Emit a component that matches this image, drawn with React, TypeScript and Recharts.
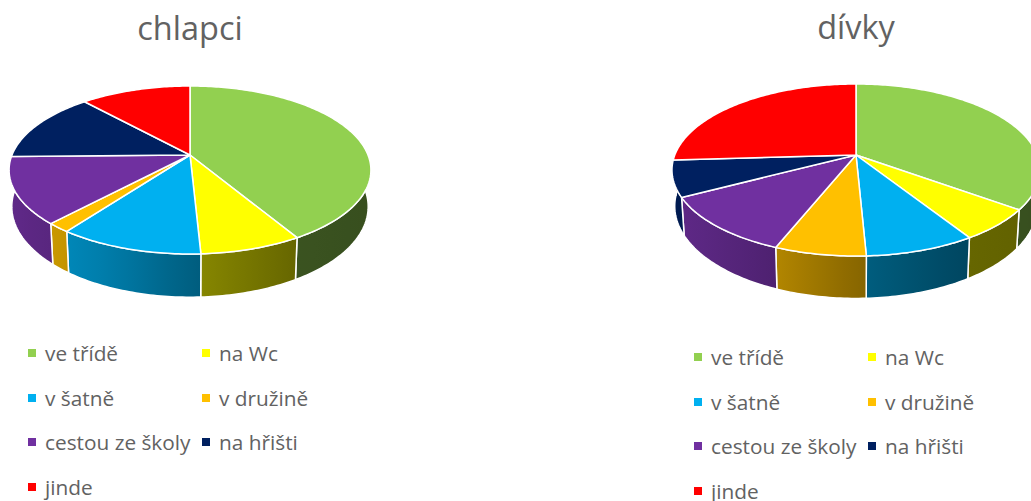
import { Legend, Pie, PieChart } from "recharts";

const CATEGORIES = [
  "ve třídě",
  "na Wc",
  "v šatně",
  "v družině",
  "cestou ze školy",
  "na hřišti",
  "jinde",
];
const CHLAPCI_VALUES = [41.5, 7.7, 10.9, 1.8, 12.8, 13.6, 11.7];
const DIVKY_VALUES = [35, 6, 8.2, 6.8, 11.2, 6.8, 25.9];
const SLICE_COLORS = [
  "#92d050",
  "#ffff00",
  "#00b0f0",
  "#ffc000",
  "#7030a0",
  "#002060",
  "#ff0000",
];

const FONT = '"Open Sans", sans-serif';
const TEXT_COLOR = "#626262";

type View = { a: number; b: number; k: number; depth: number };

// perspective of the tilted disc: angle is clockwise from the top
function project(cx: number, cy: number, view: View, deg: number, bottom = false) {
  const rad = (deg * Math.PI) / 180;
  const u = Math.sin(rad);
  const v = -Math.cos(rad);
  const w = 1 - view.k * v;
  const x = (view.a * u) / w;
  const y = (view.b * v) / w;
  if (bottom) return { x: cx + x * 0.985, y: cy + y + view.depth / w };
  return { x: cx + x, y: cy + y };
}

function arcPoints(cx: number, cy: number, view: View, from: number, to: number, bottom = false) {
  const n = Math.max(2, Math.ceil(Math.abs(to - from)));
  const pts: string[] = [];
  for (let i = 0; i <= n; i++) {
    const p = project(cx, cy, view, from + ((to - from) * i) / n, bottom);
    pts.push(`${p.x.toFixed(2)} ${p.y.toFixed(2)}`);
  }
  return pts;
}

// side wall gets darker from left to right
function brightness(t: number) {
  const stops = [
    [-1, 0.85],
    [-0.7, 0.77],
    [-0.45, 0.7],
    [0, 0.54],
    [0.6, 0.4],
    [1, 0.38],
  ];
  for (let i = 1; i < stops.length; i++) {
    if (t <= stops[i][0]) {
      const f = (t - stops[i - 1][0]) / (stops[i][0] - stops[i - 1][0]);
      return stops[i - 1][1] + (stops[i][1] - stops[i - 1][1]) * f;
    }
  }
  return 0.38;
}

function shade(hex: string, f: number) {
  const c = [1, 3, 5].map((i) => Math.round(parseInt(hex.slice(i, i + 2), 16) * f));
  return `rgb(${c[0]},${c[1]},${c[2]})`;
}

function makeTop(view: View) {
  return function TopSlice(props: any) {
    const { cx, cy, startAngle, endAngle, fill } = props;
    const pts = arcPoints(cx, cy, view, 90 - startAngle, 90 - endAngle);
    return (
      <path
        d={`M${cx} ${cy}L${pts.join("L")}Z`}
        fill={fill}
        stroke="#fff"
        strokeWidth={1.5}
        strokeLinejoin="round"
      />
    );
  };
}

function makeSide(view: View, name: string) {
  return function SideSlice(props: any) {
    const { cx, cy, startAngle, endAngle, fill } = props;
    const from = Math.max(90 - startAngle, 84);
    const to = Math.min(90 - endAngle, 276);
    if (to <= from) return <g />;
    const top = arcPoints(cx, cy, view, from, to);
    const bottom = arcPoints(cx, cy, view, from, to, true).reverse();
    const x1 = project(cx, cy, view, from).x;
    const x2 = project(cx, cy, view, to).x;
    const id = `${name}-side-${Math.round(from)}`;
    const offsets = [0, 0.25, 0.5, 0.75, 1];
    return (
      <g>
        <defs>
          <linearGradient id={id} gradientUnits="userSpaceOnUse" x1={x1} x2={x2} y1={0} y2={0}>
            {offsets.map((o) => (
              <stop
                key={o}
                offset={o}
                stopColor={shade(fill, brightness((x1 + (x2 - x1) * o - cx) / view.a))}
              />
            ))}
          </linearGradient>
        </defs>
        <path
          d={`M${top.join("L")}L${bottom.join("L")}Z`}
          fill={`url(#${id})`}
          stroke="#fff"
          strokeWidth={1.5}
          strokeLinejoin="round"
        />
      </g>
    );
  };
}

function LegendGrid({ payload }: any) {
  const items = (payload || []).filter((p: any) => p.type !== "none");
  return (
    <div
      style={{
        display: "grid",
        gridTemplateColumns: "174px 174px",
        gridAutoRows: "44.6px",
        alignItems: "center",
        fontFamily: FONT,
        fontSize: 20.8,
        lineHeight: 0.9,
        color: TEXT_COLOR,
        whiteSpace: "nowrap",
      }}
    >
      {items.map((p: any) => (
        <div key={p.value} style={{ display: "flex", alignItems: "center" }}>
          <span style={{ width: 8, height: 8, marginRight: 9, background: p.color }} />
          {p.value}
        </div>
      ))}
    </div>
  );
}

type DiscProps = {
  name: string;
  title: string;
  values: number[];
  left: number;
  width: number;
  cx: number;
  cy: number;
  view: View;
  titleY: number;
  legendX: number;
  legendY: number;
};

function Disc({ name, title, values, left, width, cx, cy, view, titleY, legendX, legendY }: DiscProps) {
  const table = CATEGORIES.map((c, i) => ({
    name: c,
    value: values[i],
    fill: SLICE_COLORS[i],
  }));
  return (
    <div style={{ position: "absolute", left, top: 0 }}>
      <PieChart width={width} height={501} margin={{ top: 0, right: 0, bottom: 0, left: 0 }}>
        <text
          x={cx}
          y={titleY}
          textAnchor="middle"
          fontFamily={FONT}
          fontSize={32.5}
          fill={TEXT_COLOR}
        >
          {title}
        </text>
        <Pie
          data={table}
          dataKey="value"
          nameKey="name"
          cx={cx}
          cy={cy}
          outerRadius={view.a}
          startAngle={90}
          endAngle={-270}
          stroke="none"
          legendType="none"
          isAnimationActive={false}
          shape={makeSide(view, name)}
        />
        <Pie
          data={table}
          dataKey="value"
          nameKey="name"
          cx={cx}
          cy={cy}
          outerRadius={view.a}
          startAngle={90}
          endAngle={-270}
          stroke="none"
          legendType="square"
          isAnimationActive={false}
          shape={makeTop(view)}
        />
        <Legend
          content={LegendGrid}
          itemSorter={null}
          wrapperStyle={{ left: legendX, top: legendY, width: 348, bottom: "auto" }}
        />
      </PieChart>
    </div>
  );
}

export default function App() {
  return (
    <div style={{ position: "absolute", left: 0, top: 0, width: 1031, height: 501, overflow: "hidden", background: "#fff" }}>
      <Disc
        name="chlapci"
        title="chlapci"
        values={CHLAPCI_VALUES}
        left={0}
        width={515}
        cx={190}
        cy={155}
        view={{ a: 178, b: 81.3, k: 0.1786, depth: 35.5 }}
        titleY={40}
        legendX={28}
        legendY={331}
      />
      <Disc
        name="divky"
        title="dívky"
        values={DIVKY_VALUES}
        left={515}
        width={516}
        cx={341}
        cy={155}
        view={{ a: 181.2, b: 83.4, k: 0.1744, depth: 35 }}
        titleY={39}
        legendX={179}
        legendY={335}
      />
    </div>
  );
}
